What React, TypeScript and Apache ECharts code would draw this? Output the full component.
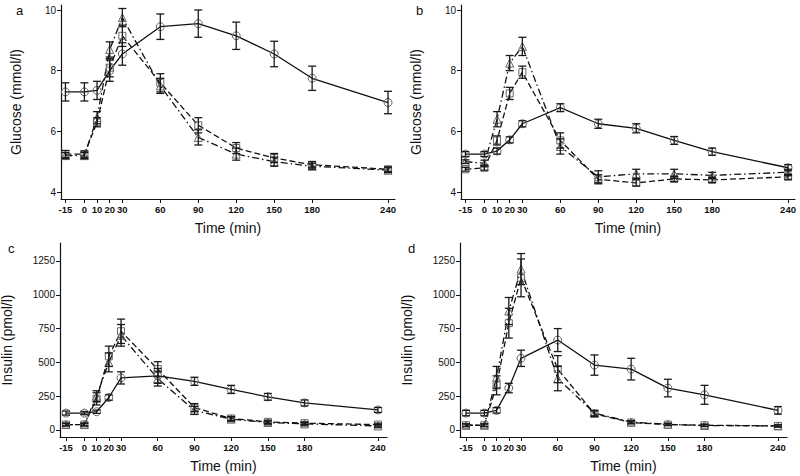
import React, { useEffect, useRef } from "react";
import * as echarts from "echarts";

const times = [-15, 0, 10, 20, 30, 60, 90, 120, 150, 180, 240];
const glucoseTicks = [4, 6, 8, 10];
const insulinTicks = [0, 250, 500, 750, 1000, 1250];

// Panel a – glucose
const aCircle = [7.3, 7.3, 7.35, 8.0, 8.55, 9.45, 9.55, 9.15, 8.55, 7.75, 6.95];
const aCircleErr = [0.3, 0.3, 0.3, 0.35, 0.37, 0.42, 0.45, 0.45, 0.42, 0.4, 0.37];
const aSquare = [5.25, 5.25, 6.3, 8.1, 9.15, 7.6, 6.2, 5.45, 5.12, 4.9, 4.75];
const aSquareErr = [0.12, 0.1, 0.15, 0.3, 0.35, 0.3, 0.25, 0.18, 0.15, 0.1, 0.08];
const aTriangle = [5.2, 5.2, 6.45, 8.7, 9.75, 7.5, 5.8, 5.25, 5.0, 4.85, 4.72];
const aTriangleErr = [0.1, 0.1, 0.2, 0.25, 0.3, 0.25, 0.25, 0.2, 0.15, 0.1, 0.08];

// Panel b – glucose
const bCircle = [5.25, 5.25, 5.35, 5.72, 6.25, 6.78, 6.25, 6.1, 5.7, 5.33, 4.8];
const bCircleErr = [0.08, 0.08, 0.1, 0.1, 0.1, 0.13, 0.15, 0.15, 0.13, 0.12, 0.1];
const bSquare = [4.75, 4.8, 5.7, 7.25, 7.95, 5.7, 4.42, 4.3, 4.43, 4.4, 4.5];
const bSquareErr = [0.06, 0.08, 0.15, 0.2, 0.2, 0.25, 0.15, 0.1, 0.08, 0.08, 0.08];
const bTriangle = [5.0, 4.95, 6.4, 8.25, 8.8, 5.5, 4.5, 4.6, 4.6, 4.55, 4.65];
const bTriangleErr = [0.06, 0.1, 0.25, 0.25, 0.3, 0.25, 0.2, 0.15, 0.15, 0.1, 0.1];

// Panel c – insulin
const cCircle = [125, 125, 135, 240, 385, 400, 360, 300, 245, 200, 148];
const cCircleErr = [15, 12, 12, 20, 45, 55, 30, 30, 25, 22, 18];
const cSquare = [40, 40, 230, 545, 730, 450, 165, 85, 60, 50, 40];
const cSquareErr = [10, 10, 45, 75, 90, 55, 30, 15, 12, 10, 10];
const cTriangle = [40, 40, 250, 500, 700, 380, 145, 80, 55, 45, 30];
const cTriangleErr = [10, 10, 40, 70, 80, 55, 30, 15, 12, 10, 10];

// Panel d – insulin
const dCircle = [125, 125, 145, 310, 530, 665, 480, 450, 310, 260, 145];
const dCircleErr = [20, 20, 20, 35, 60, 85, 75, 80, 65, 70, 28];
const dSquare = [35, 35, 330, 790, 1125, 450, 120, 55, 40, 35, 30];
const dSquareErr = [10, 10, 70, 110, 140, 100, 20, 10, 8, 8, 8];
const dTriangle = [35, 35, 390, 880, 1190, 380, 125, 58, 42, 33, 30];
const dTriangleErr = [10, 10, 80, 100, 115, 90, 20, 10, 8, 8, 8];

const FONT = "'Liberation Sans', Arial, sans-serif";

const panels = [
  { label: "a", yName: "Glucose (mmol/l)", circle: aCircle, circleErr: aCircleErr, square: aSquare, squareErr: aSquareErr, tri: aTriangle, triErr: aTriangleErr },
  { label: "b", yName: "Glucose (mmol/l)", circle: bCircle, circleErr: bCircleErr, square: bSquare, squareErr: bSquareErr, tri: bTriangle, triErr: bTriangleErr },
  { label: "c", yName: "Insulin (pmol/l)", circle: cCircle, circleErr: cCircleErr, square: cSquare, squareErr: cSquareErr, tri: cTriangle, triErr: cTriangleErr },
  { label: "d", yName: "Insulin (pmol/l)", circle: dCircle, circleErr: dCircleErr, square: dSquare, squareErr: dSquareErr, tri: dTriangle, triErr: dTriangleErr },
];

const gridPos = [
  { left: 61, top: 5, width: 334, height: 194 },
  { left: 461, top: 5, width: 334, height: 194 },
  { left: 60, top: 243, width: 327, height: 194 },
  { left: 460, top: 243, width: 327, height: 194 },
];
const labelPos = [
  { x: 16, y: 4 },
  { x: 416, y: 4 },
  { x: 8, y: 242 },
  { x: 408, y: 242 },
];

function errRender(params: any, api: any) {
  const x = api.value(0);
  const y = api.value(1);
  const e = api.value(2);
  const top = api.coord([x, y + e]);
  const bot = api.coord([x, y - e]);
  const w = 4;
  const style = { stroke: "#1a1a1a", lineWidth: 1.3 };
  return {
    type: "group",
    children: [
      { type: "line", shape: { x1: top[0], y1: top[1], x2: bot[0], y2: bot[1] }, style },
      { type: "line", shape: { x1: top[0] - w, y1: top[1], x2: top[0] + w, y2: top[1] }, style },
      { type: "line", shape: { x1: bot[0] - w, y1: bot[1], x2: bot[0] + w, y2: bot[1] }, style },
    ],
  };
}

export default function App() {
  const ref = useRef<HTMLDivElement>(null);
  useEffect(() => {
    if (!ref.current) return;
    const chart = echarts.init(ref.current, null, { renderer: "svg" });
    const grids: any[] = [];
    const xAxes: any[] = [];
    const yAxes: any[] = [];
    const series: any[] = [];
    const graphics: any[] = [];
    panels.forEach((p, i) => {
      const glucose = i < 2;
      grids.push({ ...gridPos[i], containLabel: false, outerBoundsMode: "none" });
      xAxes.push({
        type: "value",
        gridIndex: i,
        min: glucose ? -18.5 : -19.9,
        max: glucose ? 245.5 : 247.4,
        name: "Time (min)",
        nameLocation: "middle",
        nameGap: 22,
        nameMoveOverlap: false,
        nameTextStyle: { fontFamily: FONT, fontSize: 14, color: "#111" },
        axisLine: { onZero: false, lineStyle: { color: "#111", width: 1.2 } },
        axisTick: { show: true, length: 4, customValues: times, lineStyle: { color: "#111" } },
        axisLabel: {
          customValues: times,
          formatter: (v: number) => String(v),
          fontFamily: FONT,
          fontSize: 9.5,
          color: "#111",
          margin: 5,
          fontWeight: "bold",
          hideOverlap: false,
        },
        splitLine: { show: false },
      });
      yAxes.push({
        type: "value",
        gridIndex: i,
        min: glucose ? 3.77 : -52,
        max: glucose ? 10.165 : 1383,
        name: p.yName,
        nameLocation: "middle",
        nameGap: glucose ? 38 : 46,
        nameMoveOverlap: false,
        nameTextStyle: { fontFamily: FONT, fontSize: 14, color: "#111" },
        axisLine: { show: true, onZero: false, lineStyle: { color: "#111", width: 1.2 } },
        axisTick: { show: true, length: 4, customValues: glucose ? glucoseTicks : insulinTicks, lineStyle: { color: "#111" } },
        axisLabel: {
          customValues: glucose ? glucoseTicks : insulinTicks,
          formatter: (v: number) => String(v),
          fontFamily: FONT,
          fontSize: 10,
          color: "#111",
          margin: 5,
        },
        splitLine: { show: false },
      });
      const defs = [
        { vals: p.circle, errs: p.circleErr, symbol: "circle", dash: "solid" as any, size: 8 },
        { vals: p.square, errs: p.squareErr, symbol: "rect", dash: [6, 3], size: 7 },
        { vals: p.tri, errs: p.triErr, symbol: "triangle", dash: [7, 3, 1.5, 3], size: 8 },
      ];
      defs.forEach((d) => {
        series.push({
          type: "line",
          xAxisIndex: i,
          yAxisIndex: i,
          data: times.map((t, k) => [t, d.vals[k]]),
          symbol: d.symbol,
          symbolSize: d.size,
          showSymbol: true,
          lineStyle: { color: "#111", width: 1.3, type: d.dash },
          itemStyle: { color: "rgba(255,255,255,0)", borderColor: "#666", borderWidth: 1 },
          z: 3,
        });
        series.push({
          type: "custom",
          xAxisIndex: i,
          yAxisIndex: i,
          renderItem: errRender,
          encode: { x: 0, y: 1 },
          data: times.map((t, k) => [t, d.vals[k], d.errs[k]]),
          z: 4,
        });
      });
      graphics.push({
        type: "text",
        left: labelPos[i].x,
        top: labelPos[i].y,
        style: { text: p.label, fontFamily: FONT, fontSize: 13, fill: "#111" },
      });
    });
    chart.setOption({
      animation: false,
      backgroundColor: "#fff",
      grid: grids,
      xAxis: xAxes,
      yAxis: yAxes,
      series,
      graphic: graphics,
    });
    return () => chart.dispose();
  }, []);
  return <div ref={ref} style={{ position: "absolute", left: 0, top: 0, width: 800, height: 476 }} />;
}
